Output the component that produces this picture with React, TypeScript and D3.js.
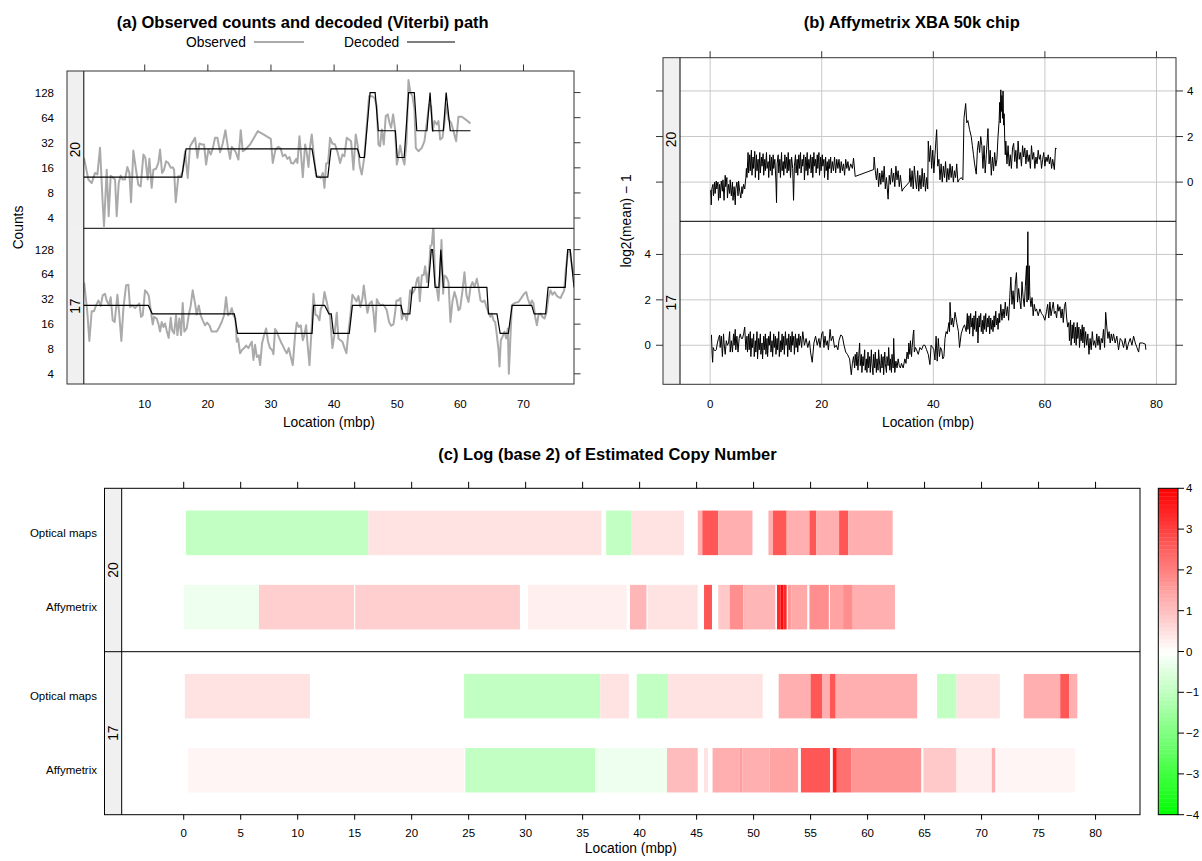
import React from 'react';
import * as d3 from 'd3';

type P = [number, number];
type Seg = [number, number, number];

const FONT = '"Liberation Sans", Arial, Helvetica, sans-serif';

const chromosomes = ['20', '17'];
const legendLabels = ['Observed', 'Decoded'];
const countTicks = [4, 8, 16, 32, 64, 128];
const locTicksA = [10, 20, 30, 40, 50, 60, 70];
const locTicksB = [0, 20, 40, 60, 80];
const logTicksB = [0, 2, 4];
const locTicksC = [0, 5, 10, 15, 20, 25, 30, 35, 40, 45, 50, 55, 60, 65, 70, 75, 80];
const keyTicks = [-4, -3, -2, -1, 0, 1, 2, 3, 4];
const platforms = ['Optical maps', 'Affymetrix'];

// (a) observed counts, chromosome 20: [location (mbp), count]
const obs20: P[] = [
  [0.38, 21.1], [1.07, 11.6], [1.6, 10.5], [2.13, 13.9], [2.5, 13.3], [2.92, 27.8], [3.34, 6.1], [3.55, 3.2], [3.98, 15.2], [4.29, 4.2],
  [4.61, 12.9], [5.03, 12.1], [5.3, 11.6], [5.56, 4.2], [5.88, 10.5], [6.2, 12.9], [6.51, 11.6], [6.88, 11.6], [7.25, 16.4], [7.57, 13.9],
  [7.83, 6.2], [8.2, 25.8], [8.62, 15.2], [8.99, 10.0], [9.36, 9.6], [9.79, 23.1], [10.1, 21.1], [10.47, 11.6], [10.74, 20.5], [11.1, 9.2],
  [11.37, 15.2], [11.79, 15.6], [12.16, 18.3], [12.43, 26.5], [12.75, 13.9], [13.06, 15.2], [13.38, 19.2], [13.75, 18.3], [14.12, 16.0], [14.44, 16.3],
  [14.65, 15.2], [14.91, 6.2], [15.33, 12.7], [15.7, 12.7], [16.02, 14.5], [16.39, 25.3], [16.81, 12.1], [17.18, 29.1], [17.5, 31.9], [17.98, 36.7],
  [18.35, 21.1], [18.66, 31.3], [19.08, 30.5], [19.4, 30.5], [19.72, 17.5], [20.09, 26.5], [20.46, 23.1], [20.8, 27.8], [21.14, 36.7], [21.51, 36.7],
  [21.94, 24.6], [22.36, 31.3], [22.78, 45.3], [23.15, 29.1], [23.52, 20.5], [23.79, 28.6], [24.16, 26.5], [24.47, 24.2], [24.84, 20.1], [25.21, 45.3],
  [25.53, 25.3], [25.9, 26.5], [26.69, 30.5], [27.9, 44.1], [29.07, 39.2], [29.97, 35.7], [30.28, 18.3], [30.71, 26.5], [31.18, 28.6], [31.55, 27.1],
  [31.87, 22.0], [32.24, 23.1], [32.61, 20.5], [32.93, 21.6], [33.19, 18.3], [33.56, 18.0], [33.98, 20.5], [34.19, 18.3], [34.51, 38.4], [34.72, 25.3],
  [35.04, 12.4], [35.41, 30.5], [35.67, 24.2], [35.94, 16.4], [36.2, 29.1], [36.46, 40.3], [36.83, 21.1], [37.15, 12.7], [37.52, 12.7], [37.89, 12.1],
  [38.21, 13.9], [38.47, 9.2], [38.74, 18.0], [39.05, 18.3], [39.36, 36.7], [39.73, 31.3], [40.15, 30.5], [40.58, 24.2], [40.95, 18.3], [41.32, 23.1],
  [41.63, 22.0], [42.0, 36.7], [42.37, 35.0], [42.69, 33.4], [43.06, 15.2], [43.43, 40.3], [43.75, 29.1], [44.06, 16.7], [44.38, 13.3], [44.8, 22.0],
  [45.17, 50.7], [45.54, 116], [45.97, 116], [46.39, 111], [46.76, 88], [47.02, 30.5], [47.29, 29.1], [47.55, 46.3], [47.87, 30.5], [48.18, 66.8],
  [48.5, 70], [48.77, 55.6], [49.03, 48.5], [49.35, 70], [49.66, 46.3], [49.93, 17.5], [50.19, 21.6], [50.46, 29.7], [50.83, 21.1], [51.14, 17.5],
  [51.46, 31.9], [51.78, 181], [52.09, 128], [52.41, 116], [52.73, 80.5], [52.94, 27.8], [53.36, 25.3], [53.89, 27.8], [54.31, 33.4], [54.68, 55.6],
  [55.05, 92.5], [55.37, 88], [55.63, 44.1], [55.9, 58.2], [56.27, 53.1], [56.53, 58.2], [56.8, 35.0], [57.16, 36.7], [57.48, 55.6], [57.8, 92.5],
  [58.12, 61], [58.54, 55.6], [58.91, 44.1], [59.33, 33.4], [59.7, 65.7], [60.23, 65.7], [61.02, 59.3], [61.6, 54.7],
];

// (a) observed counts, chromosome 17
const obs17: P[] = [
  [0.4, 51], [0.91, 22.4], [1.23, 10.0], [1.6, 23], [1.97, 23], [2.29, 27], [2.66, 31], [3.03, 26.6], [3.34, 35.7], [3.71, 37.4],
  [3.98, 31], [4.35, 27], [4.61, 34], [4.93, 17.8], [5.24, 17], [5.67, 36.4], [5.98, 20.5], [6.3, 10], [6.62, 24.7], [7.04, 47.2],
  [7.41, 48], [7.67, 25.8], [8.04, 27], [8.47, 25], [8.84, 27], [9.15, 28.4], [9.42, 19.6], [9.68, 20.5], [10.05, 41.1], [10.32, 39.2],
  [10.63, 35.7], [10.95, 23.6], [11.27, 15.9], [11.48, 19.6], [11.9, 18.7], [12.16, 16.3], [12.43, 13], [12.69, 17], [12.96, 14.8], [13.22, 16.3],
  [13.49, 13.2], [13.8, 10.9], [14.12, 19.1], [14.33, 13.6], [14.65, 12.3], [14.96, 20.5], [15.18, 11.8], [15.49, 18.7], [15.76, 11.8], [16.02, 28.9],
  [16.28, 13], [16.65, 14.2], [16.97, 20.5], [17.29, 27], [17.6, 41.1], [17.98, 28.4], [18.24, 20.9], [18.56, 27], [18.87, 20.5], [19.19, 17.8],
  [19.56, 15.5], [19.88, 16.7], [20.25, 15.5], [20.62, 13], [20.88, 13], [21.41, 13], [21.83, 14.8], [22.2, 17], [22.57, 20.5], [22.89, 34],
  [23.2, 20.5], [23.52, 21.5], [23.79, 25], [24.05, 20.5], [24.37, 18.7], [24.58, 9.8], [24.79, 10.7], [25.11, 7.1], [25.42, 7.8], [25.74, 8.2],
  [26.06, 8.8], [26.43, 8.2], [26.69, 9], [26.96, 9.8], [27.22, 5.9], [27.48, 9], [27.75, 6.4], [28.07, 6.7], [28.28, 5.1], [28.59, 9.4],
  [28.91, 11.8], [29.23, 14.2], [29.54, 9.8], [29.86, 8.2], [30.18, 7.8], [30.39, 6.9], [30.65, 14], [30.92, 13], [31.23, 11.2], [31.55, 9.8],
  [31.87, 8.8], [32.19, 7.8], [32.5, 7.1], [32.82, 8.2], [33.14, 6.4], [33.45, 5.1], [33.82, 11.8], [34.09, 16.7], [34.4, 14.8], [34.72, 15.5],
  [35.04, 10.2], [35.25, 11.5], [35.57, 15.5], [35.78, 9.4], [36.1, 5.1], [36.41, 13], [36.73, 37.4], [37.05, 20.9], [37.36, 20.2], [37.68, 17.8],
  [37.89, 24.7], [38.21, 27], [38.47, 39.2], [38.84, 29.7], [39.16, 22], [39.36, 20.2], [39.73, 8.2], [40.05, 11.8], [40.42, 22], [40.68, 10.7],
  [41.0, 10.2], [41.32, 9.8], [41.63, 8.3], [41.95, 7.1], [42.27, 13], [42.58, 20.5], [42.9, 36.4], [43.22, 33.2], [43.54, 30.3], [43.85, 35],
  [44.17, 25.8], [44.49, 33.2], [44.7, 47.2], [45.01, 30.3], [45.28, 22], [45.6, 28.4], [45.97, 30.3], [46.23, 22.4], [46.5, 13], [46.76, 32],
  [47.02, 29.2], [47.34, 27], [47.66, 27.6], [47.97, 26.6], [48.34, 23.6], [48.71, 17], [49.03, 15.3], [49.4, 15.9], [49.66, 22], [49.88, 31],
  [50.19, 31], [50.51, 33.2], [50.72, 18.4], [51.04, 21.5], [51.25, 20.5], [51.51, 17.8], [51.78, 23.6], [52.04, 41.1], [52.31, 37.4], [52.57, 39.2],
  [52.83, 43], [53.15, 56.7], [53.36, 59.3], [53.57, 30.3], [53.89, 62.2], [54.21, 63.5], [54.42, 80.6], [54.73, 51.7], [55.05, 75], [55.26, 143],
  [55.47, 146], [55.74, 260], [56.0, 49.5], [56.27, 43], [56.53, 31], [56.8, 65.3], [57.01, 168], [57.27, 37.4], [57.48, 62.2], [57.8, 59.3],
  [58.12, 51.7], [58.43, 17], [58.75, 30.3], [59.07, 39.2], [59.38, 32.5], [59.7, 23.6], [59.96, 24.7], [60.34, 41.1], [60.65, 68], [60.97, 35.7],
  [61.29, 29.7], [61.6, 45], [61.92, 51.7], [62.24, 45], [62.61, 56.7], [62.87, 45], [63.19, 31], [63.5, 29.7], [63.82, 31], [64.14, 25.8],
  [64.45, 22.4], [64.77, 19.6], [64.98, 21.5], [65.25, 17.8], [65.51, 17], [65.78, 11.8], [66.04, 7.8], [66.2, 4.9], [66.41, 10.2], [66.67, 11.2],
  [66.99, 13], [67.25, 10.7], [67.52, 14.2], [67.68, 4.0], [67.89, 9.4], [68.15, 27], [68.47, 28.4], [68.79, 29.2], [69.21, 29.7], [69.74, 34],
  [70.11, 37.4], [70.43, 39.2], [70.69, 32.5], [71.06, 27], [71.32, 31], [71.59, 28.4], [71.85, 19.6], [72.12, 15.5], [72.38, 20.9], [72.7, 21.5],
  [73.01, 19.6], [73.33, 18.7], [73.65, 22.4], [73.96, 34], [74.28, 41.1], [74.6, 36.4], [74.91, 39.2], [75.23, 35.7], [75.55, 34], [75.87, 33.2],
  [76.18, 37.4], [76.45, 41.1], [76.71, 75], [77.03, 117], [77.35, 123], [77.66, 82], [77.98, 62.2],
];

// (a) decoded (Viterbi) state path
const dec20: P[] = [
  [0.38, 12.4], [15.86, 12.4], [16.55, 27], [36.5, 27], [37.25, 12.4], [39.0, 12.4], [39.5, 27], [43.7, 27], [44.1, 21.3], [44.8, 21.3],
  [45.7, 128], [46.5, 128], [47.0, 44.6], [49.7, 44.6], [50.0, 21.3], [51.1, 21.3], [51.8, 128], [52.7, 128], [53.1, 44.6], [54.7, 44.6],
  [55.2, 128], [55.6, 44.6], [57.3, 44.6], [57.75, 128], [58.4, 44.6], [61.6, 44.6],
];
const dec17: P[] = [
  [0.35, 27], [10.57, 27], [11.2, 21.3], [24.2, 21.3], [24.7, 12.4], [36.5, 12.4], [36.75, 27], [38.5, 27], [39.2, 21.3], [39.55, 21.3],
  [39.9, 12.4], [42.4, 12.4], [42.9, 27], [50.6, 27], [50.9, 21.3], [52.0, 21.3], [52.4, 44.6], [54.9, 44.6], [55.4, 128], [55.6, 128],
  [56.0, 44.6], [56.6, 44.6], [56.9, 128], [57.3, 44.6], [64.2, 44.6], [64.45, 21.3], [65.8, 21.3], [66.3, 12.4], [67.6, 12.4], [68.2, 27],
  [71.3, 27], [71.7, 21.3], [73.5, 21.3], [73.9, 44.6], [76.6, 44.6], [77.0, 128], [77.4, 128], [78.0, 44.6],
];

// (b) Affymetrix log2(mean) - 1
const affy20: P[] = [
  [0.1, -0.35], [0.2, -1.0], [0.3, -0.3], [0.5, -0.1], [0.6, -0.6], [0.8, 0.0], [0.9, -0.5], [1.1, 0.05], [1.2, -0.3], [1.4, 0.0],
  [1.5, -0.8], [1.7, -0.1], [1.8, -0.7], [2.0, 0.05], [2.2, -0.4], [2.3, 0.1], [2.5, -0.8], [2.7, 0.3], [2.8, -0.2], [3.0, 0.2],
  [3.1, -0.7], [3.3, -0.1], [3.5, -0.5], [3.6, 0.1], [3.8, -0.6], [4.0, 0.0], [4.1, -0.8], [4.3, -0.2], [4.5, -1.0], [4.6, -0.3],
  [4.8, 0.0], [5.0, -0.6], [5.1, 0.05], [5.3, -0.4], [5.5, -0.7], [5.7, -0.2], [5.8, -0.5], [6.0, -0.1], [6.2, -0.3], [6.4, 0.2],
  [6.5, 0.6], [6.6, 0.2], [6.8, 1.3], [6.9, 0.4], [7.1, 1.2], [7.2, 0.5], [7.4, 1.4], [7.5, 0.3], [7.7, 1.1], [7.8, 0.6],
  [8.0, 1.35], [8.1, 0.2], [8.3, 1.2], [8.4, 0.5], [8.6, 1.0], [8.7, 0.1], [8.9, 1.3], [9.0, 0.4], [9.2, 1.1], [9.3, 0.7],
  [9.5, 1.25], [9.6, 0.3], [9.8, 1.0], [9.9, 0.5], [10.1, 1.3], [10.2, 0.6], [10.4, 0.9], [10.5, 0.2], [10.7, 1.2], [10.8, 0.5],
  [11.0, 1.1], [11.1, 0.3], [11.3, 1.2], [11.4, 0.6], [11.6, 1.0], [11.8, 0.0], [11.9, -0.9], [12.0, 0.8], [12.2, 1.2], [12.3, 0.4],
  [12.5, 1.0], [12.6, 0.2], [12.8, 1.3], [12.9, 0.5], [13.1, 0.9], [13.2, 0.3], [13.4, 1.2], [13.5, 0.6], [13.7, 1.1], [13.8, 0.4],
  [14.0, 1.3], [14.1, 0.5], [14.3, 1.0], [14.4, 0.2], [14.6, 1.1], [14.8, 0.6], [14.95, -0.8], [15.1, 0.7], [15.3, 1.2], [15.4, 0.4],
  [15.6, 1.0], [15.7, 0.3], [15.9, 1.2], [16.0, 0.6], [16.2, 1.3], [16.3, 0.4], [16.5, 1.0], [16.6, 0.7], [16.8, 1.2], [16.9, 0.1],
  [17.1, 1.1], [17.2, 0.5], [17.4, 1.3], [17.5, 0.3], [17.7, 1.0], [17.8, 0.6], [18.0, 1.2], [18.1, 0.4], [18.3, 1.1], [18.4, 0.2],
  [18.6, 1.3], [18.7, 0.7], [18.9, 1.0], [19.0, 0.4], [19.2, 1.2], [19.3, 0.6], [19.5, 1.3], [19.6, 0.3], [19.8, 1.1], [19.9, 0.5],
  [20.1, 1.2], [20.2, 0.7], [20.4, 1.0], [20.5, 0.2], [20.7, 1.1], [20.8, 0.5], [21.0, 0.9], [21.1, 0.1], [21.3, 1.0], [21.4, 0.6],
  [21.6, 1.1], [21.7, 0.4], [21.9, 0.9], [22.1, 0.5], [22.3, 1.1], [22.5, 0.4], [22.7, 1.0], [22.9, 0.6], [23.1, 1.0], [23.3, 0.4],
  [23.5, 0.9], [23.7, 0.5], [23.9, 0.8], [24.1, 0.3], [24.3, 1.0], [24.5, 0.6], [24.7, 0.9], [24.9, 0.5], [25.2, 0.8], [25.5, 0.6],
  [25.7, 1.05], [26.0, 0.25], [29.3, 0.55], [29.4, 1.1], [29.6, 0.5], [29.8, 0.1], [30.0, 0.6], [30.2, -0.2], [30.4, 0.4], [30.6, -0.1],
  [30.8, 0.5], [31.0, 0.0], [31.2, 0.7], [31.4, -0.3], [31.6, 0.2], [31.9, -0.75], [32.1, 0.3], [32.3, -0.1], [32.5, 0.6], [32.7, 0.0],
  [32.9, 0.4], [33.1, -0.2], [33.3, 0.7], [33.5, 0.1], [33.7, 0.5], [33.9, -0.2], [34.1, 0.3], [34.4, -0.4], [34.6, -0.3], [35.7, 0.0],
  [35.8, 0.6], [36.0, -0.2], [36.2, 0.5], [36.4, -0.3], [36.6, 0.7], [36.8, 0.1], [37.0, -0.3], [37.2, 0.5], [37.4, -0.4], [37.6, 0.3],
  [37.8, -0.3], [38.0, 0.6], [38.2, -0.2], [38.4, 0.4], [38.6, -0.4], [38.8, 0.2], [39.0, -0.3], [39.1, 1.8], [39.3, 0.9], [39.5, 1.6],
  [39.7, 0.6], [39.9, 1.4], [40.1, 0.4], [40.3, 1.2], [40.6, 2.3], [40.8, 0.7], [41.0, 1.0], [41.2, 0.1], [41.4, 0.8], [41.6, 0.0],
  [41.8, 0.7], [42.0, 0.2], [42.2, 0.9], [42.4, 0.0], [42.6, 0.6], [42.8, 0.1], [43.0, 0.8], [43.2, 0.2], [43.4, 0.7], [43.6, 0.0],
  [43.8, 0.5], [44.0, 0.2], [44.2, 0.8], [44.4, 0.0], [44.6, 0.1], [45.0, 0.2], [45.3, 0.1], [45.5, 2.8], [45.8, 3.45], [46.0, 2.6],
  [46.2, 2.7], [46.5, 2.3], [46.8, 2.0], [47.0, 1.6], [47.2, 1.2], [47.4, 0.8], [47.7, 0.35], [47.9, 1.4], [48.1, 1.8], [48.3, 1.3],
  [48.5, 2.0], [48.7, 1.6], [48.9, 0.6], [49.1, 1.6], [49.3, 0.4], [49.5, 1.2], [49.8, 2.35], [50.0, 0.8], [50.2, 1.4], [50.4, 0.3],
  [50.6, 1.1], [50.8, 0.5], [51.0, 1.3], [51.2, 0.7], [51.4, 1.0], [51.6, 2.0], [51.8, 2.7], [51.9, 3.5], [52.0, 2.6], [52.1, 4.05],
  [52.2, 3.1], [52.3, 3.8], [52.4, 2.8], [52.5, 4.0], [52.6, 2.5], [52.7, 3.0], [52.8, 1.9], [52.9, 1.2], [53.0, 1.8], [53.2, 0.8],
  [53.4, 1.6], [53.6, 0.7], [53.8, 1.2], [54.0, 0.6], [54.2, 1.5], [54.4, 1.7], [54.6, 0.9], [54.8, 1.4], [55.0, 0.6], [55.2, 1.8],
  [55.4, 1.0], [55.6, 1.3], [55.8, 0.7], [56.0, 1.6], [56.2, 1.1], [56.4, 1.5], [56.6, 0.8], [56.8, 1.4], [57.0, 0.9], [57.2, 1.2],
  [57.4, 0.6], [57.6, 1.6], [57.8, 1.0], [58.0, 1.3], [58.2, 0.6], [58.4, 1.1], [58.6, 0.8], [58.8, 1.4], [59.0, 1.0], [59.2, 1.2],
  [59.4, 0.6], [59.6, 1.0], [59.8, 1.3], [60.0, 0.7], [60.2, 1.1], [60.4, 0.9], [60.6, 1.2], [60.8, 0.8], [61.0, 1.1], [61.2, 0.6],
  [61.4, 1.0], [61.7, 0.55], [61.9, 1.5], [62.1, 1.45],
];

const affy17: P[] = [
  [0.24, 0.46], [0.35, -0.35], [0.45, -0.75], [0.55, -0.1], [0.7, -0.2], [0.9, -0.25], [1.1, -0.2], [1.3, 0.1], [1.5, 0.3], [1.7, 0.45],
  [1.8, -0.1], [2.0, 0.4], [2.2, -0.5], [2.4, 0.5], [2.5, 0.1], [2.7, -0.4], [2.9, 0.2], [3.1, 0.0], [3.3, 0.1], [3.5, 0.6],
  [3.6, -0.3], [3.8, 0.2], [4.0, -0.3], [4.2, 0.5], [4.3, 0.0], [4.5, 0.7], [4.6, -0.2], [4.8, 0.4], [5.0, -0.3], [5.2, 0.3],
  [5.4, 0.5], [5.6, 0.3], [5.8, 0.3], [6.0, 0.5], [6.2, 0.8], [6.4, -0.2], [6.6, 0.4], [6.7, -0.3], [6.9, 0.5], [7.0, -0.2],
  [7.2, 0.6], [7.3, -0.5], [7.5, 0.3], [7.6, -0.1], [7.8, 0.5], [7.9, -0.5], [8.1, 0.2], [8.2, -0.3], [8.4, 0.6], [8.5, -0.6],
  [8.7, 0.3], [8.8, -0.2], [9.0, 0.5], [9.1, -0.4], [9.3, 0.1], [9.4, -0.6], [9.6, 0.4], [9.7, -0.2], [9.9, 0.5], [10.0, -0.4],
  [10.2, 0.3], [10.3, -0.5], [10.5, 0.4], [10.6, 0.0], [10.8, 0.6], [10.9, -0.3], [11.1, 0.2], [11.2, -0.5], [11.4, 0.5], [11.5, -0.1],
  [11.7, 0.4], [11.8, -0.4], [12.0, 0.3], [12.1, -0.2], [12.3, 0.6], [12.4, -0.5], [12.6, 0.2], [12.7, -0.3], [12.9, 0.5], [13.0, -0.2],
  [13.2, 0.4], [13.3, -0.4], [13.5, 0.6], [13.6, 0.0], [13.8, 0.3], [13.9, -0.5], [14.1, 0.5], [14.2, -0.2], [14.4, 0.4], [14.5, -0.3],
  [14.7, 0.6], [14.8, 0.0], [15.0, 0.4], [15.1, -0.4], [15.3, 0.5], [15.4, -0.1], [15.6, 0.3], [15.7, -0.3], [15.9, 0.5], [16.0, 0.0],
  [16.2, 0.4], [16.4, -0.1], [16.6, 0.6], [16.9, 0.0], [17.2, 0.3], [17.5, -0.1], [17.8, 0.2], [18.0, -0.3], [18.3, -0.75], [18.6, 0.1],
  [18.9, 0.4], [19.2, 0.0], [19.5, 0.3], [19.7, -0.1], [20.0, 0.5], [20.2, 0.6], [20.4, -0.1], [20.6, 0.4], [20.8, 0.0], [21.0, 0.2],
  [21.2, -0.2], [21.5, 0.7], [21.7, 0.2], [22.0, 0.4], [22.3, -0.1], [22.6, 0.0], [22.9, -0.2], [23.1, 0.2], [23.4, 0.45], [23.7, 0.4],
  [24.0, 0.0], [24.3, -0.3], [24.6, -0.4], [25.0, -0.6], [25.3, -1.3], [25.5, -0.8], [25.7, -0.5], [25.9, -1.0], [26.0, -0.4], [26.2, -0.9],
  [26.3, -0.3], [26.5, -1.1], [26.6, -0.6], [26.8, 0.1], [26.9, -0.9], [27.1, -0.4], [27.2, -1.2], [27.4, -0.5], [27.5, -0.9], [27.7, -0.2],
  [27.8, -1.1], [28.0, -0.6], [28.1, -1.2], [28.3, -0.3], [28.4, -1.0], [28.6, -0.5], [28.7, -1.2], [28.9, -0.2], [29.0, -0.8], [29.2, -1.3],
  [29.3, -0.4], [29.5, -1.0], [29.6, -0.3], [29.8, -1.2], [29.9, -0.6], [30.1, -1.1], [30.2, -0.2], [30.4, -0.9], [30.5, -1.2], [30.7, -0.4],
  [30.8, -1.0], [31.0, -0.5], [31.1, -1.3], [31.3, -0.3], [31.4, -0.8], [31.6, -1.2], [31.7, -0.5], [31.9, -0.9], [32.0, -0.1], [32.2, -1.1],
  [32.3, -0.6], [32.5, -1.2], [32.6, -0.4], [32.8, -1.0], [32.9, 0.3], [33.1, -1.2], [33.3, -0.7], [33.5, -1.0], [33.7, -0.6], [33.9, -0.9],
  [34.1, -1.0], [34.3, -0.8], [34.6, -1.0], [34.9, -0.6], [35.1, -0.8], [35.3, -0.3], [35.5, -0.6], [35.6, 0.1], [35.8, -0.4], [35.9, 0.2],
  [36.1, -0.5], [36.2, -0.1], [36.4, 0.5], [36.5, 0.67], [36.6, -0.3], [36.8, -0.1], [37.0, -0.2], [37.3, -0.4], [37.6, -0.1], [37.9, -0.2],
  [38.2, 0.0], [38.5, 0.0], [38.8, -0.2], [39.1, -0.4], [39.4, -0.85], [39.6, 0.0], [39.9, -0.1], [40.1, -0.2], [40.3, -0.65], [40.5, 0.4],
  [40.7, -0.7], [40.9, 0.3], [41.1, -0.5], [41.3, -0.1], [41.5, -0.2], [41.7, -0.6], [41.9, -0.5], [42.1, 0.3], [42.3, 0.6], [42.5, 0.5],
  [42.8, 1.0], [42.9, 0.6], [43.0, 1.89], [43.2, 0.9], [43.4, 1.2], [43.6, 0.8], [43.9, 1.45], [44.2, 1.0], [44.5, 0.6], [44.7, -0.1],
  [45.0, 0.5], [45.3, 0.75], [45.6, 0.9], [45.9, 0.6], [46.1, 1.4], [46.2, 0.7], [46.4, 1.3], [46.5, 0.5], [46.7, 1.4], [46.8, 0.8],
  [47.0, 1.2], [47.1, 0.4], [47.3, 1.3], [47.4, 0.7], [47.6, 1.5], [47.7, 0.6], [47.9, 1.2], [48.0, 0.1], [48.2, 1.3], [48.3, 0.8],
  [48.5, 1.4], [48.6, 0.6], [48.8, 1.1], [48.9, 0.5], [49.1, 1.3], [49.2, 0.7], [49.4, 1.4], [49.5, 0.6], [49.7, 1.2], [49.8, 0.8],
  [50.0, 1.3], [50.1, 0.5], [50.3, 1.2], [50.4, 0.7], [50.6, 1.1], [50.7, 0.6], [50.9, 1.3], [51.0, 0.8], [51.2, 1.5], [51.3, 0.9],
  [51.5, 1.2], [51.6, 0.7], [51.8, 1.4], [51.9, 1.0], [52.1, 1.8], [52.3, 1.1], [52.5, 1.6], [52.7, 1.2], [52.9, 1.9], [53.1, 1.3],
  [53.3, 1.7], [53.5, 1.1], [53.7, 2.1], [53.9, 3.0], [54.1, 1.8], [54.3, 2.4], [54.5, 1.6], [54.7, 2.7], [54.9, 3.2], [55.1, 1.9],
  [55.3, 2.5], [55.5, 2.0], [55.7, 1.6], [55.9, 2.8], [56.1, 2.1], [56.3, 1.7], [56.5, 2.6], [56.7, 3.5], [56.8, 1.9], [56.95, 5.0],
  [57.05, 2.0], [57.2, 3.5], [57.3, 2.2], [57.5, 1.7], [57.7, 2.1], [57.9, 1.3], [58.1, 1.8], [58.3, 1.5], [58.5, 1.6], [58.8, 1.3],
  [59.1, 1.6], [59.4, 1.4], [59.7, 1.3], [60.0, 1.1], [60.3, 1.5], [60.5, 1.8], [60.7, 1.2], [60.9, 1.9], [61.1, 1.3], [61.3, 1.6],
  [61.5, 1.9], [61.7, 1.4], [61.9, 1.5], [62.1, 1.2], [62.3, 1.8], [62.5, 1.5], [62.7, 1.7], [62.9, 1.2], [63.1, 1.6], [63.3, 1.0],
  [63.5, 1.7], [63.7, 1.9], [63.9, 1.2], [64.1, 0.8], [64.3, 1.0], [64.4, 0.2], [64.6, 1.1], [64.7, 0.0], [64.9, 0.9], [65.0, 0.3],
  [65.2, 1.0], [65.3, 0.1], [65.5, 0.8], [65.6, 0.0], [65.8, 1.0], [65.9, 0.3], [66.1, 0.8], [66.2, -0.1], [66.4, 0.7], [66.5, 0.2],
  [66.7, 0.9], [66.8, 0.1], [67.0, 0.8], [67.1, -0.1], [67.3, 0.6], [67.5, 0.0], [67.7, 0.5], [67.9, -0.4], [68.1, 0.3], [68.3, -0.2],
  [68.5, 0.6], [68.7, 0.0], [68.9, 0.2], [69.1, -0.1], [69.3, 0.5], [69.5, 0.0], [69.7, 0.4], [69.9, -0.2], [70.1, 0.3], [70.3, 0.1],
  [70.5, 0.7], [70.7, -0.1], [70.9, 1.45], [71.1, 0.8], [71.3, 0.3], [71.5, 0.6], [71.7, 0.1], [71.9, 0.5], [72.1, 0.2], [72.3, 0.5],
  [72.6, 0.1], [72.9, 0.4], [73.2, -0.2], [73.5, 0.3], [73.8, 0.2], [74.1, -0.1], [74.4, 0.3], [74.7, -0.2], [75.0, 0.1], [75.3, 0.3],
  [75.6, 0.0], [75.9, 0.4], [76.2, 0.1], [76.5, -0.1], [76.8, -0.3], [77.0, 0.1], [77.5, 0.1], [78.0, 0.05], [78.1, -0.2],
];

// (c) segments: [start, end, log2 estimated copy number]
const opt20: Seg[] = [
  [0.2, 16.2, -0.93], [16.2, 36.65, 0.44], [37.06, 39.3, -0.93], [39.3, 43.9, 0.44], [45.1, 45.5, 1.24], [45.5, 46.9, 2.62],
  [46.9, 49.9, 1.24], [51.3, 51.7, 1.24], [51.7, 52.9, 2.62], [52.9, 54.9, 1.24], [54.9, 55.5, 2.62], [55.5, 57.5, 1.24],
  [57.5, 58.3, 2.62], [58.3, 62.2, 1.24],
];
const aff20: Seg[] = [
  [0.04, 6.6, -0.3], [6.6, 14.94, 0.8], [15.04, 29.5, 0.8], [30.2, 38.85, 0.24], [39.15, 40.6, 1.11], [40.7, 45.1, 0.44],
  [45.65, 46.35, 2.62], [46.9, 47.9, 0.86], [47.9, 49.1, 1.74], [49.1, 51.9, 1.11], [52.05, 52.35, 3.3], [52.35, 52.6, 3.8],
  [52.6, 52.9, 3.3], [53.0, 53.3, 1.5], [53.3, 54.7, 1.35], [54.9, 56.6, 1.74], [56.7, 57.85, 1.49], [57.85, 58.7, 1.74],
  [58.7, 62.4, 1.24],
];
const opt17: Seg[] = [
  [0.1, 11.08, 0.44], [24.6, 36.55, -0.93], [36.55, 39.05, 0.44], [39.75, 42.5, -0.93], [42.5, 50.8, 0.44], [52.2, 55.0, 1.24],
  [55.0, 56.0, 2.62], [56.0, 56.7, 1.24], [56.7, 57.2, 2.62], [57.2, 64.35, 1.24], [66.1, 67.8, -0.93], [67.8, 71.6, 0.44],
  [73.7, 76.9, 1.24], [76.9, 77.7, 2.62], [77.7, 78.4, 1.24],
];
const aff17: Seg[] = [
  [0.37, 24.6, 0.17], [24.7, 36.1, -0.93], [36.1, 42.4, -0.22], [42.4, 45.1, 1.1], [45.65, 46.0, 0.44], [46.4, 48.8, 1.24],
  [48.8, 49.0, 1.6], [49.0, 51.4, 1.24], [51.4, 53.9, 1.49], [54.15, 56.7, 2.62], [56.95, 57.3, 3.5], [57.3, 58.6, 2.24],
  [58.6, 64.7, 1.62], [64.9, 67.8, 0.86], [67.8, 70.9, 0.24], [70.9, 71.2, 1.24], [71.3, 78.2, 0.17],
];

const fmt = (v: number) => (v < 0 ? '\u2212' + Math.abs(v) : String(v));

export default function App() {
  const W = 1202;
  const H = 861;
  const border = '#333';
  const stripFill = '#f0f0f0';

  // ---------- Panel (a) ----------
  const aLeft = 67, aStrip = 83.8, aRight = 574, aTop = 71, aMid = 228.3, aBot = 384;
  const ax = d3.scaleLinear().domain([0.35, 78.0]).range([aStrip, aRight]);
  const aRows = [
    { chr: chromosomes[0], top: aTop, bot: aMid, obs: obs20, dec: dec20 },
    { chr: chromosomes[1], top: aMid, bot: aBot, obs: obs17, dec: dec17 },
  ];

  // ---------- Panel (b) ----------
  const bLeft = 663, bStrip = 680, bRight = 1176, bTop = 57.7, bMid = 221.3, bBot = 384.3;
  const bx = d3.scaleLinear().domain([-5.4, 83.5]).range([bStrip, bRight]);
  const bRows = [
    { chr: chromosomes[0], top: bTop, bot: bMid, data: affy20 },
    { chr: chromosomes[1], top: bMid, bot: bBot, data: affy17 },
  ];

  // ---------- Panel (c) ----------
  const cLeft = 104.5, cStrip = 121.7, cRight = 1140, cTop = 488.3, cMid = 651.7, cBot = 814.7;
  const cx = d3.scaleLinear().domain([-5.44, 83.9]).range([cStrip, cRight]);
  const cRows = [
    { chr: chromosomes[0], top: cTop, bot: cMid, segs: [opt20, aff20] },
    { chr: chromosomes[1], top: cMid, bot: cBot, segs: [opt17, aff17] },
  ];
  const colorLin = d3.scaleLinear<string>().domain([-4, 0, 4]).range(['#00ff00', '#ffffff', '#ff0000']).clamp(true);
  const step = 0.1;
  const quant = (v: number) => {
    const i = Math.min(79, Math.max(0, Math.floor((v + 4) / step)));
    return colorLin(-4 + (i + 0.5) * step);
  };
  const keyX0 = 1158.3, keyX1 = 1178;
  const ky = d3.scaleLinear().domain([-4, 4]).range([cBot, cTop]);
  const bands = d3.range(80).map((i) => -4 + i * step);

  const tickFont = 11.5;

  return (
    <svg
      width={W}
      height={H}
      viewBox={`0 0 ${W} ${H}`}
      style={{ position: 'absolute', left: 0, top: 0, background: '#fff' }}
      fontFamily={FONT}
    >
      <defs>
        {aRows.map((r, i) => (
          <clipPath id={`clipA${i}`} key={i}>
            <rect x={aStrip} y={r.top} width={aRight - aStrip} height={r.bot - r.top} />
          </clipPath>
        ))}
        {bRows.map((r, i) => (
          <clipPath id={`clipB${i}`} key={i}>
            <rect x={bStrip} y={r.top} width={bRight - bStrip} height={r.bot - r.top} />
          </clipPath>
        ))}
      </defs>
      <rect x={0} y={0} width={W} height={H} fill="#fff" />

      {/* ================= Panel (a) ================= */}
      <text x={302.7} y={28} textAnchor="middle" fontSize={16.5} fontWeight="bold">
        (a) Observed counts and decoded (Viterbi) path
      </text>
      <text x={186} y={46.5} fontSize={13.8}>{legendLabels[0]}</text>
      <line x1={254} x2={304} y1={42} y2={42} stroke="#aaaaaa" strokeWidth={2} />
      <text x={344} y={46.5} fontSize={13.8}>{legendLabels[1]}</text>
      <line x1={407} x2={455} y1={42} y2={42} stroke="#000" strokeWidth={1.2} />

      {aRows.map((r, i) => {
        const y = d3.scaleLog().base(2).domain([2 ** 1.59, 2 ** 7.86]).range([r.bot, r.top]);
        const line = d3.line<P>().x((d) => ax(d[0])).y((d) => y(d[1]));
        return (
          <g key={r.chr}>
            <g clipPath={`url(#clipA${i})`}>
              <path d={line(r.obs) || ''} fill="none" stroke="#aaaaaa" strokeWidth={2} strokeLinejoin="round" />
              <path d={line(r.dec) || ''} fill="none" stroke="#000" strokeWidth={1.2} />
            </g>
            <rect x={aLeft} y={r.top} width={aStrip - aLeft} height={r.bot - r.top} fill={stripFill} />
            <text
              transform={`translate(${(aLeft + aStrip) / 2},${(r.top + r.bot) / 2}) rotate(-90)`}
              textAnchor="middle"
              dominantBaseline="central"
              fontSize={13.8}
            >
              {r.chr}
            </text>
            {countTicks.map((t) => (
              <g key={t}>
                <line x1={aRight} x2={aRight + 6.5} y1={y(t)} y2={y(t)} stroke={border} />
                <text x={54} y={y(t)} textAnchor="end" dominantBaseline="central" fontSize={tickFont}>
                  {t}
                </text>
              </g>
            ))}
          </g>
        );
      })}
      <line x1={aStrip} x2={aRight} y1={aMid} y2={aMid} stroke="#000" />
      <line x1={aStrip} x2={aStrip} y1={aTop} y2={aBot} stroke="#000" />
      <rect x={aLeft} y={aTop} width={aRight - aLeft} height={aBot - aTop} fill="none" stroke={border} />
      {locTicksA.map((t) => (
        <g key={t}>
          <line x1={ax(t)} x2={ax(t)} y1={aTop - 6.5} y2={aTop} stroke={border} />
          <text x={ax(t)} y={408} textAnchor="middle" fontSize={tickFont}>{t}</text>
        </g>
      ))}
      <text x={(aStrip + aRight) / 2} y={427} textAnchor="middle" fontSize={13.8}>Location (mbp)</text>
      <text transform={`translate(22.5,${(aTop + aBot) / 2}) rotate(-90)`} textAnchor="middle" fontSize={13.8}>
        Counts
      </text>

      {/* ================= Panel (b) ================= */}
      <text x={911.7} y={28} textAnchor="middle" fontSize={16.5} fontWeight="bold">
        (b) Affymetrix XBA 50k chip
      </text>
      {locTicksB.map((t) => (
        <line key={`gv${t}`} x1={bx(t)} x2={bx(t)} y1={bTop} y2={bBot} stroke="#c8c8c8" />
      ))}
      {bRows.map((r, i) => {
        const y = d3.scaleLinear().domain([-1.72, 5.46]).range([r.bot, r.top]);
        const line = d3.line<P>().x((d) => bx(d[0])).y((d) => y(d[1]));
        return (
          <g key={r.chr}>
            {logTicksB.map((t) => (
              <line key={`gh${t}`} x1={bStrip} x2={bRight} y1={y(t)} y2={y(t)} stroke="#c8c8c8" />
            ))}
            <g clipPath={`url(#clipB${i})`}>
              <path d={line(r.data) || ''} fill="none" stroke="#000" strokeWidth={1} strokeLinejoin="round" />
            </g>
            <rect x={bLeft} y={r.top} width={bStrip - bLeft} height={r.bot - r.top} fill={stripFill} />
            <text
              transform={`translate(${(bLeft + bStrip) / 2},${(r.top + r.bot) / 2}) rotate(-90)`}
              textAnchor="middle"
              dominantBaseline="central"
              fontSize={13.8}
            >
              {r.chr}
            </text>
            {logTicksB.map((t) => (
              <g key={t}>
                <line x1={bLeft - 7} x2={bLeft} y1={y(t)} y2={y(t)} stroke={border} />
                <line x1={bRight} x2={bRight + 7} y1={y(t)} y2={y(t)} stroke={border} />
                {i === 0 ? (
                  <text x={1187} y={y(t)} dominantBaseline="central" fontSize={tickFont}>{t}</text>
                ) : (
                  <text x={651} y={y(t)} textAnchor="end" dominantBaseline="central" fontSize={tickFont}>{t}</text>
                )}
              </g>
            ))}
          </g>
        );
      })}
      <line x1={bStrip} x2={bRight} y1={bMid} y2={bMid} stroke="#000" />
      <line x1={bStrip} x2={bStrip} y1={bTop} y2={bBot} stroke="#000" />
      <rect x={bLeft} y={bTop} width={bRight - bLeft} height={bBot - bTop} fill="none" stroke={border} />
      {locTicksB.map((t) => (
        <g key={t}>
          <line x1={bx(t)} x2={bx(t)} y1={bTop - 6.5} y2={bTop} stroke={border} />
          <text x={bx(t)} y={408} textAnchor="middle" fontSize={tickFont}>{t}</text>
        </g>
      ))}
      <text x={(bStrip + bRight) / 2} y={427} textAnchor="middle" fontSize={13.8}>Location (mbp)</text>
      <text transform={`translate(631,${(bTop + bBot) / 2}) rotate(-90)`} textAnchor="middle" fontSize={13.8}>
        {'log2(mean) \u2212 1'}
      </text>

      {/* ================= Panel (c) ================= */}
      <text x={607.5} y={460} textAnchor="middle" fontSize={16.5} fontWeight="bold">
        (c) Log (base 2) of Estimated Copy Number
      </text>
      {cRows.map((r) => {
        const y = d3.scaleLinear().domain([0.4, 2.6]).range([r.top, r.bot]);
        return (
          <g key={r.chr}>
            {r.segs.map((segs, k) => (
              <g key={k}>
                {segs.map((s, j) => (
                  <rect
                    key={j}
                    x={cx(s[0])}
                    width={cx(s[1]) - cx(s[0])}
                    y={y(k + 1 - 0.3)}
                    height={y(k + 1 + 0.3) - y(k + 1 - 0.3)}
                    fill={quant(s[2])}
                  />
                ))}
                <text x={97} y={y(k + 1)} textAnchor="end" dominantBaseline="central" fontSize={tickFont}>
                  {platforms[k]}
                </text>
              </g>
            ))}
            <rect x={cLeft} y={r.top} width={cStrip - cLeft} height={r.bot - r.top} fill={stripFill} />
            <text
              transform={`translate(${(cLeft + cStrip) / 2},${(r.top + r.bot) / 2}) rotate(-90)`}
              textAnchor="middle"
              dominantBaseline="central"
              fontSize={13.8}
            >
              {r.chr}
            </text>
          </g>
        );
      })}
      <line x1={cLeft} x2={cRight} y1={cMid} y2={cMid} stroke="#000" />
      <line x1={cStrip} x2={cStrip} y1={cTop} y2={cBot} stroke="#000" />
      <rect x={cLeft} y={cTop} width={cRight - cLeft} height={cBot - cTop} fill="none" stroke="#000" />
      {locTicksC.map((t) => (
        <g key={t}>
          <line x1={cx(t)} x2={cx(t)} y1={cTop - 6.5} y2={cTop} stroke="#000" />
          <line x1={cx(t)} x2={cx(t)} y1={cBot} y2={cBot + 5} stroke="#000" />
          <text x={cx(t)} y={837} textAnchor="middle" fontSize={tickFont}>{t}</text>
        </g>
      ))}
      <text x={(cStrip + cRight) / 2} y={852.5} textAnchor="middle" fontSize={13.8}>Location (mbp)</text>

      {/* colour key */}
      {bands.map((b) => (
        <rect
          key={b}
          x={keyX0}
          width={keyX1 - keyX0}
          y={ky(b + step)}
          height={ky(b) - ky(b + step) + 0.3}
          fill={colorLin(b + step / 2)}
        />
      ))}
      <rect x={keyX0} y={cTop} width={keyX1 - keyX0} height={cBot - cTop} fill="none" stroke="#000" />
      {keyTicks.map((t) => (
        <g key={t}>
          <line x1={keyX1} x2={keyX1 + 6} y1={ky(t)} y2={ky(t)} stroke="#000" />
          <text x={1186} y={ky(t)} dominantBaseline="central" fontSize={tickFont}>{fmt(t)}</text>
        </g>
      ))}
    </svg>
  );
}
